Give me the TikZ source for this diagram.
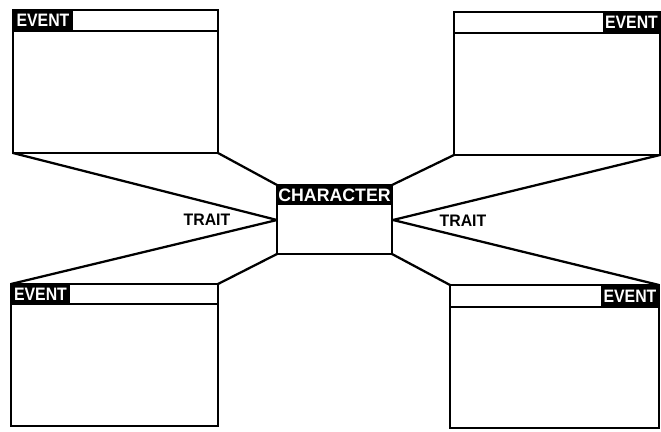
\documentclass[tikz,border=0pt]{standalone}
\usepackage{fontspec}
\setmainfont{Liberation Sans}
\begin{document}
\begin{tikzpicture}[x=0.75pt,y=-0.75pt,
  frame/.style={draw=black,line width=1.7pt,line join=miter},
  conn/.style={draw=black,line width=1.7pt},
  tagtext/.style={text=white,font=\bfseries\fontsize{13.5}{13.5}\selectfont,inner sep=0pt,xscale=0.88},
  lbl/.style={font=\bfseries\fontsize{12.5}{12.5}\selectfont,inner sep=0pt,xscale=0.95}]
\useasboundingbox (0,0) rectangle (661,432);
% top-left event
\coordinate (tlA) at (13,10); \coordinate (tlB) at (218,153);
\fill[black] (13,10) rectangle (73,31);
\node[tagtext] (tlT) at (43,20.5) {EVENT};
\draw[frame] (tlA) rectangle (tlB);
\draw[frame] (13,31) -- (218,31);
\coordinate (tlBL) at (13,153);
% top-right event
\coordinate (trA) at (454,12); \coordinate (trB) at (660,155);
\fill[black] (603,12) rectangle (660,33);
\node[tagtext] (trT) at (631.5,22.5) {EVENT};
\draw[frame] (trA) rectangle (trB);
\draw[frame] (454,33) -- (660,33);
\coordinate (trBL) at (454,155);
% bottom-left event
\coordinate (blA) at (11,284); \coordinate (blB) at (218,426);
\fill[black] (11,284) rectangle (70,304);
\node[tagtext] (blT) at (40.5,294) {EVENT};
\draw[frame] (blA) rectangle (blB);
\draw[frame] (11,304) -- (218,304);
\coordinate (blTR) at (218,284);
% bottom-right event
\coordinate (brA) at (450,285); \coordinate (brB) at (659,428);
\fill[black] (601,285) rectangle (659,307);
\node[tagtext] (brT) at (630,296) {EVENT};
\draw[frame] (brA) rectangle (brB);
\draw[frame] (450,307) -- (659,307);
\coordinate (brTR) at (659,285);
% character
\coordinate (cA) at (277,185); \coordinate (cB) at (392,254);
\fill[black] (277,185) rectangle (392,205);
\node[tagtext,xscale=1.12] (cT) at (334.5,195.5) {CHARACTER};
\draw[frame] (cA) rectangle (cB);
\coordinate (cTR) at (392,185); \coordinate (cBL) at (277,254);
\coordinate (cL) at (277,220); \coordinate (cR) at (393,220);
% connectors
\draw[conn] (tlBL) -- (cL);
\draw[conn] (blA) -- (cL);
\draw[conn] (tlB) -- (cA);
\draw[conn] (blTR) -- (cBL);
\draw[conn] (trBL) -- (cTR);
\draw[conn] (trB) -- (cR);
\draw[conn] (brTR) -- (cR);
\draw[conn] (brA) -- (cB);
% labels
\node[lbl] (t1) at (207,220) {TRAIT};
\node[lbl] (t2) at (463,221) {TRAIT};
\end{tikzpicture}
\end{document}
